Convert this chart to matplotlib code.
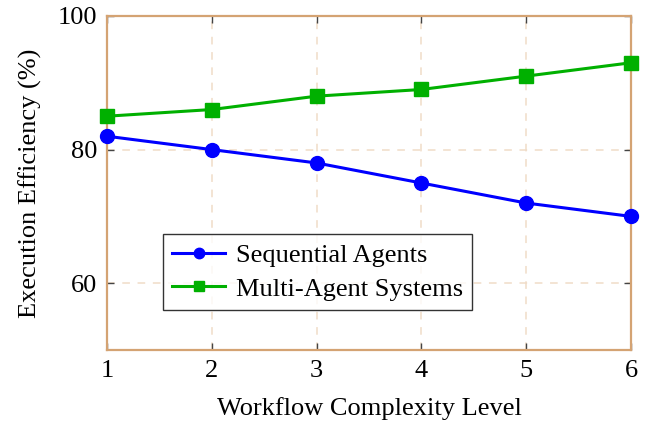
import matplotlib
matplotlib.use("Agg")
import matplotlib.pyplot as plt

complexity = [1, 2, 3, 4, 5, 6]
sequential = [82, 80, 78, 75, 72, 70]
multi_agent = [85, 86, 88, 89, 91, 93]

plt.rcParams["font.family"] = ["Liberation Serif", "DejaVu Serif"]
plt.rcParams["mathtext.fontset"] = "stix"

fig = plt.figure(figsize=(6.49, 4.22), dpi=100)
ax = fig.add_axes([107 / 649, 1 - 350 / 422, 524 / 649, 334 / 422])

frame = "#d4a373"
grid = "#f0dcc8"

ax.plot(complexity, sequential, color="#0000ff", lw=2.2, marker="o", ms=10,
        label="Sequential Agents", clip_on=False, zorder=3)
ax.plot(complexity, multi_agent, color="#00b000", lw=2.2, marker="s", ms=9.5,
        label="Multi-Agent Systems", clip_on=False, zorder=3)

ax.set_xlim(1, 6)
ax.set_ylim(50, 100)
ax.set_xticks(complexity)
ax.set_yticks([60, 80, 100])
ax.grid(True, color=grid, linestyle=(0, (5, 5)), lw=1.1)
ax.tick_params(direction="in", length=5, width=1, color="#444444",
               top=True, right=True, labelsize=19, pad=7)

for s in ax.spines.values():
    s.set_color(frame)
    s.set_linewidth(1.6)

ax.set_xlabel("Workflow Complexity Level", fontsize=19, labelpad=11)
ax.set_ylabel("Execution Efficiency (%)", fontsize=19, labelpad=11)

leg = ax.legend(loc="lower left", bbox_to_anchor=(0.107, 0.12), fontsize=19,
                frameon=True, fancybox=False, edgecolor="black",
                borderpad=0.35, handlelength=2.0, labelspacing=0.38,
                handletextpad=0.4, borderaxespad=0, markerscale=0.75)
leg.get_frame().set_linewidth(1.0)

fig.savefig("out.png", dpi=100)
